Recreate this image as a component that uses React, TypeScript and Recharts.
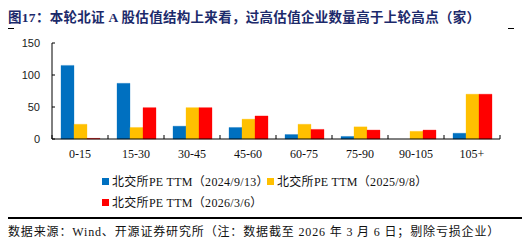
import { BarChart, Bar, XAxis, YAxis } from 'recharts';

const categories = ['0-15', '15-30', '30-45', '45-60', '60-75', '75-90', '90-105', '105+'];
const pe2024 = [115, 87, 20, 18, 7, 4, 0, 9];
const pe2025 = [23, 18, 49, 31, 23, 19, 12, 70];
const pe2026 = [1, 49, 49, 36, 15, 14, 14, 70];
const yTicks = [0, 50, 100, 150];

const seriesNames = ['北交所PE TTM（2024/9/13）', '北交所PE TTM（2025/9/8）', '北交所PE TTM（2026/3/6）'];
const colors = ['#0070C0', '#FFC000', '#FF0000'];

const data = categories.map((c, i) => ({ cat: c, a: pe2024[i], b: pe2025[i], c: pe2026[i] }));

const PLOT_LEFT = 52;
const PLOT_RIGHT = 500;
const BAND = (PLOT_RIGHT - PLOT_LEFT) / categories.length;

const serif = '"Liberation Serif", "Times New Roman", "Noto Sans CJK SC", serif';

function CatTick(props: any) {
  const { x, y, payload, index } = props;
  const left = x - BAND / 2;
  return (
    <g>
      <line x1={left} x2={left} y1={y} y2={y - 4} stroke="#000" strokeWidth={1} />
      {index === categories.length - 1 && (
        <line x1={x + BAND / 2} x2={x + BAND / 2} y1={y} y2={y - 4} stroke="#000" strokeWidth={1} />
      )}
      <text x={x} y={y + 19} textAnchor="middle" fontSize={12} fontFamily={serif} fill="#111">
        {payload.value}
      </text>
    </g>
  );
}

function LegendItem({ i, left, top }: { i: number; left: number; top: number }) {
  return (
    <div style={{ position: 'absolute', left, top, display: 'flex', alignItems: 'center', fontFamily: serif, fontSize: 12, color: '#111', whiteSpace: 'nowrap', letterSpacing: 0.3 }}>
      <span style={{ width: 7, height: 7, background: colors[i], marginRight: 3, display: 'inline-block' }} />
      {seriesNames[i]}
    </div>
  );
}

export default function App() {
  return (
    <div style={{ position: 'absolute', left: 0, top: 0, width: 530, height: 246, background: '#fff', overflow: 'hidden' }}>
      <div style={{ position: 'absolute', left: 8, top: 6, fontSize: 13.5, fontWeight: 'bold', color: '#1c2a6b', fontFamily: serif, whiteSpace: 'nowrap', letterSpacing: 0.3 }}>
        图17：本轮北证 A 股估值结构上来看，过高估值企业数量高于上轮高点（家）
      </div>
      <div style={{ position: 'absolute', left: 8, top: 28, width: 6, height: 1, background: '#000' }} />
      <div style={{ position: 'absolute', left: 508, top: 28, width: 6, height: 1, background: '#000' }} />

      <div style={{ position: 'absolute', left: 0, top: 0 }}>
        <BarChart
          width={530}
          height={246}
          data={data}
          margin={{ top: 43, right: 30, left: 12, bottom: 77 }}
          barCategoryGap={9}
          barGap={0}
        >
          <XAxis
            dataKey="cat"
            axisLine={{ stroke: '#000' }}
            tickLine={false}
            tickSize={0}
            tickMargin={0}
            height={30}
            interval={0}
            tick={<CatTick />}
          />
          <YAxis
            domain={[0, 150]}
            ticks={yTicks}
            width={40}
            axisLine={{ stroke: '#000' }}
            tickLine={{ stroke: '#000' }}
            tickSize={-3}
            tickMargin={15}
            tick={{ fontSize: 11, fill: '#1a1a1a', fontFamily: '"Liberation Sans", Arial, sans-serif' }}
          />
          <Bar dataKey="a" fill={colors[0]} stroke={colors[0]} strokeOpacity={0.3} isAnimationActive={false} />
          <Bar dataKey="b" fill={colors[1]} stroke={colors[1]} strokeOpacity={0.3} isAnimationActive={false} />
          <Bar dataKey="c" fill={colors[2]} stroke={colors[2]} strokeOpacity={0.3} isAnimationActive={false} />
        </BarChart>
      </div>

      <LegendItem i={0} left={102} top={172} />
      <LegendItem i={1} left={267} top={172} />
      <LegendItem i={2} left={102} top={193} />

      <div style={{ position: 'absolute', left: 8, top: 217, width: 514, height: 1.5, background: '#000' }} />
      <div style={{ position: 'absolute', left: 8, top: 222, fontSize: 12, fontFamily: serif, color: '#111', whiteSpace: 'nowrap', letterSpacing: 0.85 }}>
        数据来源：Wind、开源证券研究所（注：数据截至 2026 年 3 月 6 日；剔除亏损企业）
      </div>
    </div>
  );
}
